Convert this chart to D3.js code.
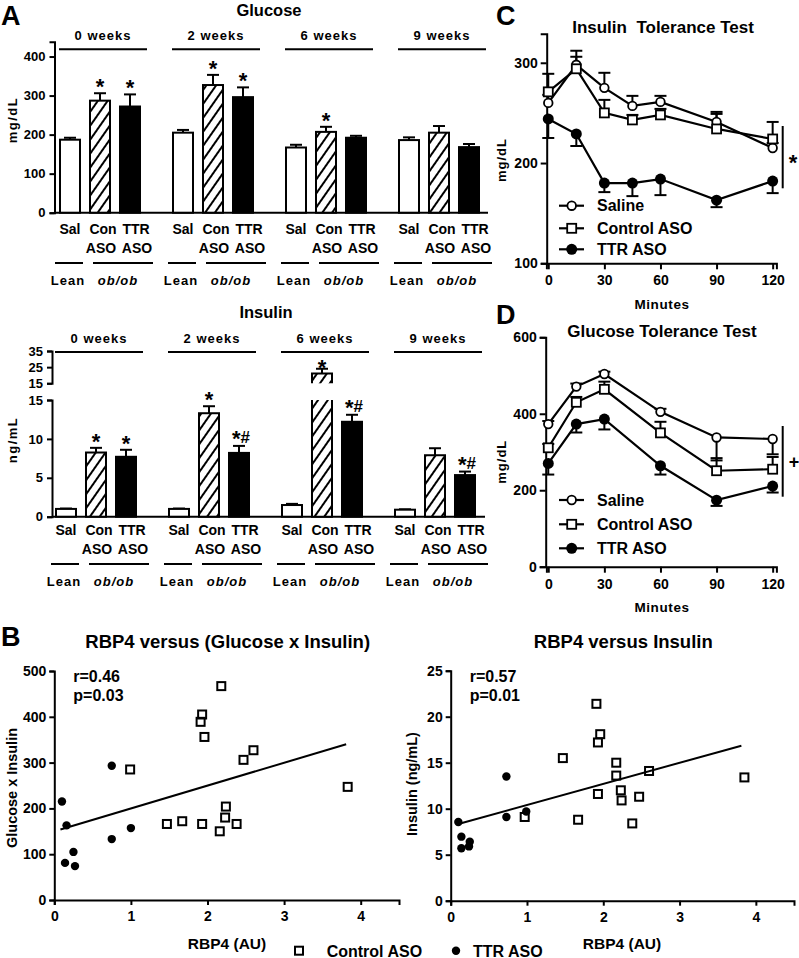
<!DOCTYPE html>
<html><head><meta charset="utf-8">
<script src="https://cdn.jsdelivr.net/npm/d3@7"></script>
<style>
body{margin:0;background:#fff;}
svg{display:block;}
</style></head><body>
<svg id="c" width="799" height="958"></svg>
<script>
// ---------------- DATA ----------------
const weeks = ["0 weeks", "2 weeks", "6 weeks", "9 weeks"];
const treatments = ["Sal", "Con", "TTR"];
const glucoseMean = [[187, 287, 272], [205, 327, 296], [167, 207, 192], [186, 205, 168]];
const glucoseErr  = [[5, 19, 31], [7, 26, 25], [7, 13, 5], [7, 17, 8]];
const glucoseSig  = [["", "*", "*"], ["", "*", "*"], ["", "*", ""], ["", "", ""]];
const insulinMean = [[1.0, 8.25, 7.7], [1.0, 13.3, 8.2], [1.5, 21, 12.2], [0.9, 7.9, 5.35]];
const insulinErr  = [[0.05, 0.6, 0.9], [0.05, 0.9, 0.9], [0.15, 3, 0.9], [0.05, 0.9, 0.45]];
const insulinSig  = [["", "*", "*"], ["", "*", "*#"], ["", "*", "*#"], ["", "", "*#"]];
const glucoseTicks = [0, 100, 200, 300, 400];
const insulinTicksLow = [0, 5, 10, 15];
const insulinTicksHigh = [15, 25, 35];

const seriesNames = ["Saline", "Control ASO", "TTR ASO"];
const ittTime = [0, 15, 30, 45, 60, 90, 120];
const ittSaline = [260, 298, 275, 257, 261, 241, 215];
const ittSalineErr = [8, 14, 15, 10, 6, 10, 5];
const ittControl = [271, 294, 250, 243, 248, 234, 224];
const ittControlErr = [18, 12, 13, 5, 6, 15, 17];
const ittTTR = [244, 229, 180, 180, 184, 163, 182];
const ittTTRErr = [-19, -12, -9, -13, -16, -7, -12];
const ittTicksY = [100, 200, 300];

const gttTime = [0, 15, 30, 60, 90, 120];
const gttSaline = [373, 471, 504, 405, 338, 334];
const gttSalineErr = [8, 8, 6, 8, -60, -40];
const gttControl = [311, 430, 464, 350, 251, 255];
const gttControlErr = [10, 14, 20, 29, 33, 32];
const gttTTR = [270, 373, 386, 264, 174, 211];
const gttTTRErr = [-29, -22, -27, -23, -15, -17];
const gttTicksY = [0, 200, 400, 600];
const minuteTicks = [0, 30, 60, 90, 120];

const gxiCtrlX = [2.18, 1.93, 1.91, 1.96, 0.99, 2.47, 2.60, 3.83, 2.24, 2.23, 1.47, 1.67, 1.93, 2.16, 2.38];
const gxiCtrlY = [467, 405, 389, 356, 285, 306, 327, 247, 204, 180, 166, 172, 166, 150, 166];
const gxiTTRX = [0.10, 0.16, 0.14, 0.25, 0.27, 0.75, 0.75, 1.00];
const gxiTTRY = [215, 163, 81, 105, 74, 293, 133, 157];
const gxiFitX = [0.08, 3.81];
const gxiFitY = [154, 340];

const insCtrlX = [1.91, 1.96, 1.93, 1.47, 0.97, 1.67, 1.93, 2.17, 2.17, 2.23, 2.24, 2.47, 2.60, 2.38, 3.85];
const insCtrlY = [21.4, 18.1, 17.2, 15.5, 9.1, 8.8, 11.6, 15.0, 13.6, 12.0, 10.9, 11.3, 14.1, 8.4, 13.4];
const insTTRX = [0.10, 0.14, 0.14, 0.25, 0.24, 0.73, 0.73, 0.99];
const insTTRY = [8.55, 6.96, 5.7, 6.4, 5.9, 13.5, 9.1, 9.7];
const insFitX = [0.10, 3.81];
const insFitY = [8.33, 16.85];
const rbpTicks = [0, 1, 2, 3, 4];

// ---------------- HELPERS ----------------
const FONT = '"Liberation Sans", Arial, Helvetica, sans-serif';
const svg = d3.select("#c");
svg.append("rect").attr("width", 799).attr("height", 958).attr("fill", "#fff");

const defs = svg.append("defs");
const pat = defs.append("pattern").attr("id", "hatch").attr("patternUnits", "userSpaceOnUse")
  .attr("width", 8).attr("height", 10).attr("patternTransform", "rotate(35)");
pat.append("rect").attr("width", 8).attr("height", 10).attr("fill", "#fff");
pat.append("line").attr("x1", 2).attr("y1", -1).attr("x2", 2).attr("y2", 11)
  .attr("stroke", "#000").attr("stroke-width", 2);

function txt(x, y, s, fs, opt = {}) {
  const t = svg.append("text").attr("x", x).attr("y", y).text(s)
    .attr("font-family", FONT).attr("font-weight", "bold").attr("font-size", fs)
    .attr("fill", "#000").attr("text-anchor", opt.anchor || "middle");
  if (opt.ls) t.attr("letter-spacing", opt.ls);
  if (opt.italic) t.attr("font-style", "italic");
  if (opt.rotate) t.attr("transform", `rotate(-90,${x},${y})`);
  if (opt.dy) t.attr("dy", opt.dy);
  if (opt.pre) t.attr("xml:space", "preserve").style("white-space", "pre");
  return t;
}
function hline(x1, x2, y, w = 2) {
  svg.append("line").attr("x1", x1).attr("x2", x2).attr("y1", y).attr("y2", y)
    .attr("stroke", "#000").attr("stroke-width", w);
}
function vline(x, y1, y2, w = 2) {
  svg.append("line").attr("x1", x).attr("x2", x).attr("y1", y1).attr("y2", y2)
    .attr("stroke", "#000").attr("stroke-width", w);
}
function styleAxis(g, fs) {
  g.attr("font-family", null).attr("font-size", null);
  g.selectAll("path.domain").attr("stroke", "#000").attr("stroke-width", 2);
  g.selectAll(".tick line").attr("stroke", "#000").attr("stroke-width", 2);
  g.selectAll(".tick text").attr("font-family", FONT).attr("font-weight", "bold")
    .attr("font-size", fs).attr("fill", "#000");
}
function leftAxis(scale, x, ticks, fs, size = 5, pad = 4) {
  const g = svg.append("g").attr("transform", `translate(${x},0)`)
    .call(d3.axisLeft(scale).tickValues(ticks).tickSizeOuter(0).tickSize(size).tickPadding(pad).tickFormat(d3.format("d")));
  styleAxis(g, fs);
  return g;
}
function bottomAxis(scale, y, ticks, fs, size = 6, pad = 6) {
  const g = svg.append("g").attr("transform", `translate(0,${y})`)
    .call(d3.axisBottom(scale).tickValues(ticks).tickSizeOuter(0).tickSize(size).tickPadding(pad).tickFormat(d3.format("d")));
  styleAxis(g, fs);
  return g;
}
function sigText(x, baseY, s) {
  const t = svg.append("text").attr("x", x).attr("y", baseY).attr("text-anchor", "middle")
    .attr("font-family", FONT).attr("font-weight", "bold").attr("fill", "#000");
  t.append("tspan").attr("font-size", 22).attr("fill", "#000").text("*");
  if (s.includes("#")) t.append("tspan").attr("font-size", 17).attr("fill", "#000").attr("dy", -3).text("#");
}

// ---------------- PANEL A (bars) ----------------
const fills = ["#fff", "url(#hatch)", "#000"];
function barPanel(o) {
  const xOuter = d3.scaleBand().domain(weeks).range([o.x0, o.x0 + 3 * 113 + 80])
    .paddingInner(33 / 113).paddingOuter(0);
  const xInner = d3.scaleBand().domain(treatments).range([0, xOuter.bandwidth()])
    .paddingInner(1 / 3).paddingOuter(0);
  const bw = xInner.bandwidth();
  hline(o.axisX, o.baseEnd, o.y0);
  weeks.forEach((w, wi) => {
    const gx = xOuter(w);
    treatments.forEach((t, ti) => {
      const v = o.means[wi][ti], e = o.errs[wi][ti];
      const bx = gx + xInner(t);
      let errTop;
      if (o.yHigh && v > o.breakAt) {
        const yb = o.yLow(o.breakAt);
        svg.append("rect").attr("x", bx).attr("y", yb).attr("width", bw).attr("height", o.y0 - yb)
          .attr("fill", fills[ti]);
        svg.append("path").attr("d", `M${bx},${yb}V${o.y0}H${bx + bw}V${yb}`)
          .attr("fill", "none").attr("stroke", "#000").attr("stroke-width", 2);
        const yt = o.yHigh(v), ybh = o.yHigh(o.breakAt);
        svg.append("rect").attr("x", bx).attr("y", yt).attr("width", bw).attr("height", ybh - yt)
          .attr("fill", fills[ti]);
        svg.append("path").attr("d", `M${bx},${ybh}V${yt}H${bx + bw}V${ybh}`)
          .attr("fill", "none").attr("stroke", "#000").attr("stroke-width", 2);
        errTop = o.yHigh(v + e);
        vline(bx + bw / 2, yt, errTop);
        hline(bx + bw / 2 - 6, bx + bw / 2 + 6, errTop);
        if (o.sig[wi][ti]) sigText(bx + bw / 2, errTop + 6, o.sig[wi][ti]);
      } else {
        const yt = o.yLow(v);
        errTop = o.yLow(v + e);
        vline(bx + bw / 2, yt, errTop);
        hline(bx + bw / 2 - 6, bx + bw / 2 + 6, errTop);
        svg.append("rect").attr("x", bx).attr("y", yt).attr("width", bw).attr("height", o.y0 - yt)
          .attr("fill", fills[ti]).attr("stroke", "#000").attr("stroke-width", 2);
        const s = o.sig[wi][ti];
        if (s) sigText(bx + bw / 2 + (s.includes("#") ? 2 : 0), errTop + (s.includes("#") ? 0 : 1), s);
      }
    });
    const cx = gx + xOuter.bandwidth() / 2 + 3;
    txt(cx, o.weekY, w, 13, { ls: 1 });
    hline(cx - 44, cx + 44, o.weekLineY);
    txt(gx + 10, o.labY, "Sal", 14);
    txt(gx + 43, o.labY, "Con", 14);
    txt(gx + 76, o.labY, "TTR", 14);
    txt(gx + 41, o.labY + 19, "ASO", 14);
    txt(gx + 77, o.labY + 19, "ASO", 14);
    hline(gx - 5, gx + 23, o.labY + 29);
    hline(gx + 33, gx + 93, o.labY + 29);
    txt(gx + 8, o.labY + 51, "Lean", 13, { ls: 1 });
    txt(gx + 58, o.labY + 51, "ob/ob", 13, { ls: 1, italic: true });
  });
}

txt(1, 25, "A", 27, { anchor: "start" });
// Glucose
const yGlu = d3.scaleLinear().domain([0, 438]).range([212.7, 41.7]);
txt(269, 15.5, "Glucose", 16.5);
leftAxis(yGlu, 54.5, glucoseTicks, 13);
txt(12, 120, "mg/dL", 13, { rotate: true, ls: 1.5, dy: "0.35em" });
barPanel({ x0: 60, axisX: 54.5, baseEnd: 488, y0: 212.7, yLow: yGlu, means: glucoseMean, errs: glucoseErr,
  sig: glucoseSig, weekY: 40, weekLineY: 49.3, labY: 234 });

// Insulin
const yInsLow = d3.scaleLinear().domain([0, 15]).range([516.7, 400]);
const yInsHigh = d3.scaleLinear().domain([15, 35]).range([383.3, 351]);
txt(266, 318, "Insulin", 16.5);
leftAxis(yInsLow, 52, insulinTicksLow, 13);
leftAxis(yInsHigh, 52, insulinTicksHigh, 13);
txt(12, 440, "ng/mL", 13, { rotate: true, ls: 1.5, dy: "0.35em" });
barPanel({ x0: 56, axisX: 52, baseEnd: 485, y0: 516.7, yLow: yInsLow, yHigh: yInsHigh, breakAt: 15,
  means: insulinMean, errs: insulinErr, sig: insulinSig, weekY: 343, weekLineY: 352, labY: 535 });

// ---------------- PANELS C & D (lines) ----------------
const xMin = d3.scaleLinear().domain([-1, 122]).range([546.4, 776.4]);
function marker(sel, kind, x, y) {
  if (kind === 0) sel.append("circle").attr("cx", x).attr("cy", y).attr("r", 4.3)
    .attr("fill", "#fff").attr("stroke", "#000").attr("stroke-width", 1.8);
  else if (kind === 1) sel.append("rect").attr("x", x - 4.5).attr("y", y - 4.5).attr("width", 9).attr("height", 9)
    .attr("fill", "#fff").attr("stroke", "#000").attr("stroke-width", 1.8);
  else sel.append("circle").attr("cx", x).attr("cy", y).attr("r", 5.5).attr("fill", "#000");
}
function linePanel(o) {
  const g = svg.append("g");
  o.series.forEach((s) => {
    s.v.forEach((v, i) => {
      const e = s.e[i];
      const x = xMin(o.t[i]);
      const ye = o.y(v + e);
      g.append("line").attr("x1", x).attr("x2", x).attr("y1", o.y(v)).attr("y2", ye)
        .attr("stroke", "#000").attr("stroke-width", 2);
      g.append("line").attr("x1", x - 6).attr("x2", x + 6).attr("y1", ye).attr("y2", ye)
        .attr("stroke", "#000").attr("stroke-width", 2);
    });
  });
  const ln = d3.line().x((d, i) => xMin(o.t[i])).y(d => o.y(d));
  o.series.forEach((s) => {
    g.append("path").attr("d", ln(s.v)).attr("fill", "none").attr("stroke", "#000").attr("stroke-width", 2.2);
  });
  o.series.forEach((s, si) => {
    s.v.forEach((v, i) => marker(g, si, xMin(o.t[i]), o.y(v)));
  });
  seriesNames.forEach((n, i) => {
    const ly = o.legY[i];
    hline(559, 584, ly, 2.2);
    marker(svg, i, 571.7, ly);
    txt(597, ly, n, 16, { anchor: "start", dy: "0.36em" });
  });
}

// C
const yItt = d3.scaleLinear().domain([100, 329]).range([263.3, 33.7]);
txt(496, 25, "C", 27, { anchor: "start" });
txt(663, 32.7, "Insulin  Tolerance Test", 17, { pre: true });
leftAxis(yItt, 546.7, ittTicksY, 14, 6, 3);
bottomAxis(xMin, 263.3, minuteTicks, 14, 6, 6);
txt(501, 160, "mg/dL", 13, { rotate: true, ls: 1, dy: "0.35em" });
txt(662, 309, "Minutes", 13.5, { ls: 0.6 });
linePanel({ t: ittTime, y: yItt, legY: [205.7, 228.3, 249.3], series: [
  { v: ittSaline, e: ittSalineErr }, { v: ittControl, e: ittControlErr }, { v: ittTTR, e: ittTTRErr }] });
vline(782.7, 126, 188.3);
txt(793, 170, "*", 22);

// D
const yGtt = d3.scaleLinear().domain([0, 600]).range([566.7, 337.3]);
txt(496, 324, "D", 27, { anchor: "start" });
txt(662, 336.7, "Glucose Tolerance Test", 17);
leftAxis(yGtt, 545.7, gttTicksY, 14, 6, 3);
bottomAxis(xMin, 566.7, minuteTicks, 14, 6, 6);
txt(501, 461.7, "mg/dL", 13, { rotate: true, ls: 1, dy: "0.35em" });
txt(662, 612, "Minutes", 13.5, { ls: 0.6 });
linePanel({ t: gttTime, y: yGtt, legY: [500, 524.3, 548.3], series: [
  { v: gttSaline, e: gttSalineErr }, { v: gttControl, e: gttControlErr }, { v: gttTTR, e: gttTTRErr }] });
vline(782.7, 426, 496.7);
txt(794, 461.7, "+", 18, { dy: "0.35em" });

// ---------------- PANEL B (scatter) ----------------
txt(1, 646, "B", 27, { anchor: "start" });
function scatter(o) {
  leftAxis(o.y, o.x.range()[0], o.yTicks, 14, 5, 3);
  bottomAxis(o.x, o.y.range()[0], rbpTicks, 14, 5, 6);
  txt(o.titleX, 648.3, o.title, 18.5);
  txt(o.x.range()[0] + 19, 682.3, o.r, 16, { anchor: "start" });
  txt(o.x.range()[0] + 19, 701, o.p, 16, { anchor: "start" });
  txt(o.xlabX, 949, "RBP4 (AU)", 15.5);
  txt(o.ylabX, o.ylabY, o.ylab, 14.5, { rotate: true, dy: "0.35em" });
  svg.append("line").attr("x1", o.x(o.fitX[0])).attr("y1", o.y(o.fitY[0]))
    .attr("x2", o.x(o.fitX[1])).attr("y2", o.y(o.fitY[1])).attr("stroke", "#000").attr("stroke-width", 2);
  o.cx.forEach((v, i) => {
    svg.append("rect").attr("x", o.x(v) - 4).attr("y", o.y(o.cy[i]) - 4).attr("width", 8).attr("height", 8)
      .attr("fill", "none").attr("stroke", "#000").attr("stroke-width", 2);
  });
  o.tx.forEach((v, i) => {
    svg.append("circle").attr("cx", o.x(v)).attr("cy", o.y(o.ty[i])).attr("r", 4.2).attr("fill", "#000");
  });
}
scatter({
  x: d3.scaleLinear().domain([0, 4.5]).range([54.3, 399]),
  y: d3.scaleLinear().domain([0, 500]).range([900, 671]),
  yTicks: [0, 100, 200, 300, 400, 500], title: "RBP4 versus (Glucose x Insulin)", titleX: 227.7,
  r: "r=0.46", p: "p=0.03", xlabX: 227, ylab: "Glucose x Insulin", ylabX: 12, ylabY: 788,
  fitX: gxiFitX, fitY: gxiFitY, cx: gxiCtrlX, cy: gxiCtrlY, tx: gxiTTRX, ty: gxiTTRY
});
scatter({
  x: d3.scaleLinear().domain([0, 4.5]).range([450.7, 794]),
  y: d3.scaleLinear().domain([0, 25]).range([900.7, 670.7]),
  yTicks: [0, 5, 10, 15, 20, 25], title: "RBP4 versus Insulin", titleX: 623.3,
  r: "r=0.57", p: "p=0.01", xlabX: 622, ylab: "Insulin (ng/mL)", ylabX: 412, ylabY: 784,
  fitX: insFitX, fitY: insFitY, cx: insCtrlX, cy: insCtrlY, tx: insTTRX, ty: insTTRY
});
svg.append("rect").attr("x", 295).attr("y", 946.7).attr("width", 8).attr("height", 8)
  .attr("fill", "none").attr("stroke", "#000").attr("stroke-width", 2);
txt(326.7, 956.5, "Control ASO", 16, { anchor: "start" });
svg.append("circle").attr("cx", 456).attr("cy", 950.7).attr("r", 4.2).attr("fill", "#000");
txt(473, 956.5, "TTR ASO", 16, { anchor: "start" });
</script>
</body></html>
